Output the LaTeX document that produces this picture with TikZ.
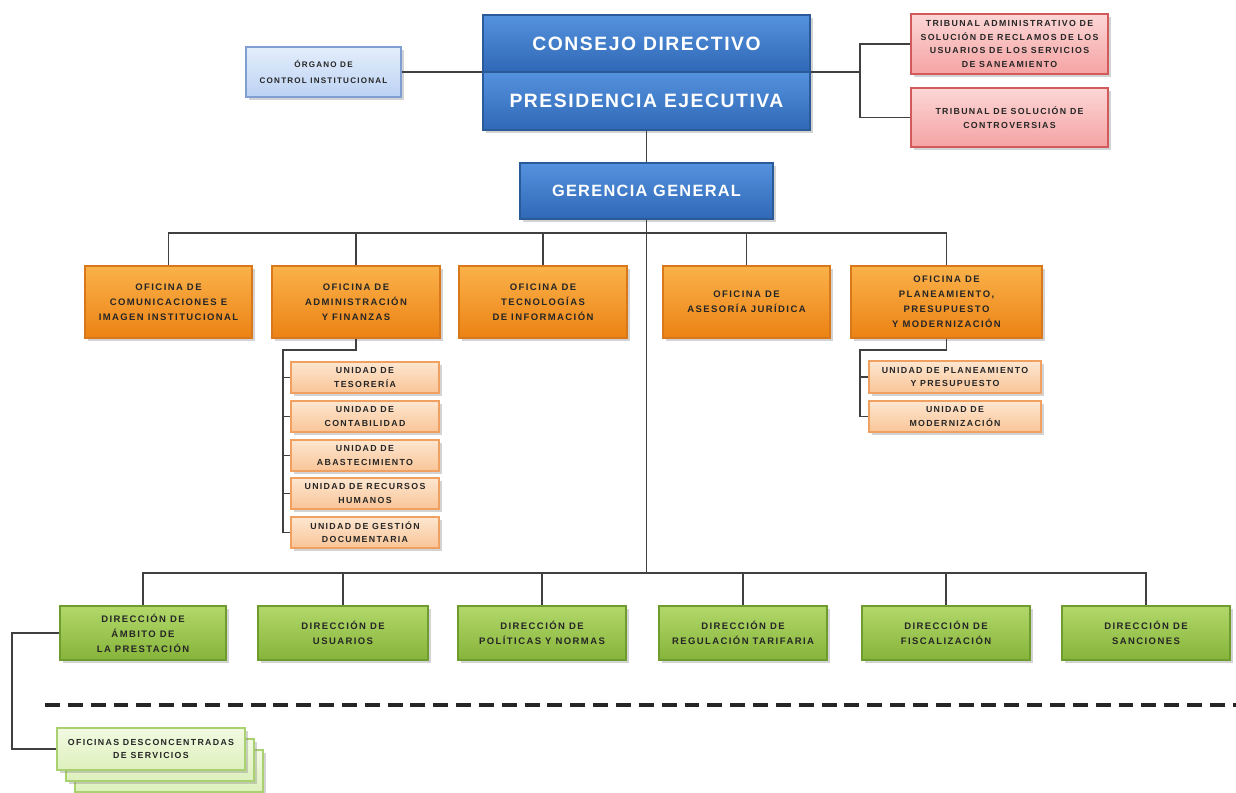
\documentclass[tikz,border=0pt]{standalone}
\usepackage{fontspec}
\setmainfont{Liberation Sans}
\newfontfamily\titlefont[LetterSpace=8]{Liberation Sans}
\newfontfamily\smallfont[LetterSpace=15]{Liberation Sans}
\usetikzlibrary{shadows}

\definecolor{bluetop}{HTML}{5592DE}
\definecolor{bluebot}{HTML}{2F68B6}
\definecolor{blueline}{HTML}{2A5A98}
\definecolor{paletop}{HTML}{E4EEFC}
\definecolor{palebot}{HTML}{BCD2F3}
\definecolor{paleline}{HTML}{7F9FD0}
\definecolor{pinktop}{HTML}{FCD6D6}
\definecolor{pinkbot}{HTML}{F5A3A3}
\definecolor{pinkline}{HTML}{D25A5A}
\definecolor{orgtop}{HTML}{FAB24A}
\definecolor{orgbot}{HTML}{EC8214}
\definecolor{orgline}{HTML}{D9781A}
\definecolor{unittop}{HTML}{FDE6D0}
\definecolor{unitbot}{HTML}{F9C597}
\definecolor{unitline}{HTML}{F0A060}
\definecolor{greentop}{HTML}{B2D86A}
\definecolor{greenbot}{HTML}{86B43A}
\definecolor{greenline}{HTML}{6E9C2E}
\definecolor{lgreentop}{HTML}{F2FAE2}
\definecolor{lgreenbot}{HTML}{DDF0BC}
\definecolor{lgreenline}{HTML}{A9D170}

\begin{document}
\begin{tikzpicture}[x=0.02cm,y=-0.02cm,
  conn/.style={draw=black!75, line width=1pt},
  sz/.style 2 args={minimum width=#1*0.02cm, minimum height=#2*0.02cm},
  base/.style={rectangle, inner sep=1pt, align=center, line width=0.8pt, text=black!85,
    drop shadow={opacity=0.35, shadow xshift=1.5pt, shadow yshift=-1.5pt}},
  bluebox/.style={base, draw=blueline, top color=bluetop, bottom color=bluebot, text=white,
    font=\titlefont\bfseries\fontsize{11}{13}\selectfont},
  palebox/.style={base, draw=paleline, top color=paletop, bottom color=palebot,
    font=\smallfont\bfseries\fontsize{4.6}{9}\selectfont},
  pinkbox/.style={base, draw=pinkline, top color=pinktop, bottom color=pinkbot,
    font=\smallfont\bfseries\fontsize{5}{7.6}\selectfont},
  orgbox/.style={base, draw=orgline, top color=orgtop, bottom color=orgbot,
    font=\smallfont\bfseries\fontsize{5.4}{8.5}\selectfont},
  unitbox/.style={base, draw=unitline, top color=unittop, bottom color=unitbot,
    font=\smallfont\bfseries\fontsize{5}{7.5}\selectfont},
  greenbox/.style={base, draw=greenline, top color=greentop, bottom color=greenbot,
    font=\smallfont\bfseries\fontsize{5.4}{8.5}\selectfont},
  lgreenbox/.style={base, draw=lgreenline, top color=lgreentop, bottom color=lgreenbot,
    font=\smallfont\bfseries\fontsize{5}{7.5}\selectfont}]

\useasboundingbox (0,0) rectangle (1236,793);

% alta direccion
\node [bluebox, sz={327}{57}] (consejo) at (646.5,43.5) {CONSEJO DIRECTIVO};
\node [bluebox, sz={327}{58}] (presidencia) at (646.5,101) {PRESIDENCIA EJECUTIVA};
\node [palebox, sz={155}{50}] (organo) at (323.5,72) {ÓRGANO DE\\CONTROL INSTITUCIONAL};
\node [pinkbox, sz={197}{60}] (trib1) at (1009.5,44) {TRIBUNAL ADMINISTRATIVO DE\\SOLUCIÓN DE RECLAMOS DE LOS\\USUARIOS DE LOS SERVICIOS\\DE SANEAMIENTO};
\node [pinkbox, sz={197}{59}] (trib2) at (1009.5,117.5) {TRIBUNAL DE SOLUCIÓN DE\\CONTROVERSIAS};
\node [bluebox, sz={253}{56}, font=\titlefont\bfseries\fontsize{9.3}{11}\selectfont] (gerencia) at (646.5,191) {GERENCIA GENERAL};

\coordinate (tj) at (860,72);
\draw [conn] (organo.east) -- (organo.east -| consejo.west);
\draw [conn] (tj -| consejo.east) -- (tj);
\draw [conn] (trib1.west) -| (tj) |- (trib2.west);
\draw [conn] (presidencia.south) -- (gerencia.north);

% oficinas
\node [orgbox, sz={167}{72}] (ocom) at (168.5,302) {OFICINA DE\\COMUNICACIONES E\\IMAGEN INSTITUCIONAL};
\node [orgbox, sz={168}{72}] (oadm) at (356,302) {OFICINA DE\\ADMINISTRACIÓN\\Y FINANZAS};
\node [orgbox, sz={168}{72}] (otec) at (543,302) {OFICINA DE\\TECNOLOGÍAS\\DE INFORMACIÓN};
\node [orgbox, sz={167}{72}] (oase) at (746.5,302) {OFICINA DE\\ASESORÍA JURÍDICA};
\node [orgbox, sz={191}{72}] (opla) at (946.5,302) {OFICINA DE\\PLANEAMIENTO,\\PRESUPUESTO\\Y MODERNIZACIÓN};

\coordinate (obus) at (646.5,233);
\draw [conn] (ocom.north) |- (obus) -| (opla.north);
\draw [conn] (oadm.north) -- (oadm.north |- obus);
\draw [conn] (otec.north) -- (otec.north |- obus);
\draw [conn] (oase.north) -- (oase.north |- obus);

% unidades
\node [unitbox, sz={148}{31}] (utes) at (365,377.5) {UNIDAD DE\\TESORERÍA};
\node [unitbox, sz={148}{31}] (ucon) at (365,416.5) {UNIDAD DE\\CONTABILIDAD};
\node [unitbox, sz={148}{31}] (uaba) at (365,455.5) {UNIDAD DE\\ABASTECIMIENTO};
\node [unitbox, sz={148}{31}] (urec) at (365,493.5) {UNIDAD DE RECURSOS\\HUMANOS};
\node [unitbox, sz={148}{31}] (uges) at (365,532.5) {UNIDAD DE GESTIÓN\\DOCUMENTARIA};

\coordinate (ua) at (283,350);
\draw [conn] (oadm.south) |- (ua) |- (uges.west);
\draw [conn] (ua |- utes.west) -- (utes.west);
\draw [conn] (ua |- ucon.west) -- (ucon.west);
\draw [conn] (ua |- uaba.west) -- (uaba.west);
\draw [conn] (ua |- urec.west) -- (urec.west);

\node [unitbox, sz={172}{32}] (upla) at (955,377) {UNIDAD DE PLANEAMIENTO\\Y PRESUPUESTO};
\node [unitbox, sz={172}{31}] (umod) at (955,416.5) {UNIDAD DE\\MODERNIZACIÓN};

\coordinate (pa) at (860,350);
\draw [conn] (opla.south) |- (pa) |- (umod.west);
\draw [conn] (pa |- upla.west) -- (upla.west);

% direcciones
\node [greenbox, sz={166}{54}] (damb) at (143,633) {DIRECCIÓN DE\\ÁMBITO DE\\LA PRESTACIÓN};
\node [greenbox, sz={170}{54}] (dusu) at (343,633) {DIRECCIÓN DE\\USUARIOS};
\node [greenbox, sz={168}{54}] (dpol) at (542,633) {DIRECCIÓN DE\\POLÍTICAS Y NORMAS};
\node [greenbox, sz={168}{54}] (dreg) at (743,633) {DIRECCIÓN DE\\REGULACIÓN TARIFARIA};
\node [greenbox, sz={168}{54}] (dfis) at (946,633) {DIRECCIÓN DE\\FISCALIZACIÓN};
\node [greenbox, sz={168}{54}] (dsan) at (1146,633) {DIRECCIÓN DE\\SANCIONES};

\coordinate (gbus) at (646.5,573);
\draw [conn] (gerencia.south) -- (gbus);
\draw [conn] (damb.north) |- (gbus) -| (dsan.north);
\draw [conn] (dusu.north) -- (dusu.north |- gbus);
\draw [conn] (dpol.north) -- (dpol.north |- gbus);
\draw [conn] (dreg.north) -- (dreg.north |- gbus);
\draw [conn] (dfis.north) -- (dfis.north |- gbus);

\draw [black!85, line width=2pt, dash pattern=on 8.5pt off 4.5pt] (45,705) -- (1236,705);

% organos desconcentrados
\node [lgreenbox, sz={188}{42}] (of3) at (169,771) {};
\node [lgreenbox, sz={188}{42}] (of2) at (160,760) {};
\node [lgreenbox, sz={188}{42}] (of1) at (151,749) {OFICINAS DESCONCENTRADAS\\DE SERVICIOS};

\coordinate (oj) at (12,633);
\draw [conn] (damb.west) -- (oj) |- (of1.west);

\end{tikzpicture}
\end{document}
